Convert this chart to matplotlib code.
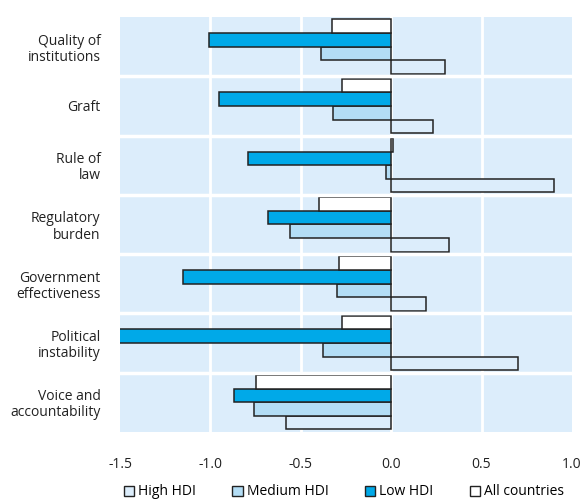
import numpy as np
import matplotlib.pyplot as plt
from matplotlib.patches import Patch

plt.rcParams['font.family'] = ['Open Sans', 'DejaVu Sans']

categories = ['Quality of\ninstitutions', 'Graft', 'Rule of\nlaw', 'Regulatory\nburden',
              'Government\neffectiveness', 'Political\ninstability', 'Voice and\naccountability']
all_countries = [-0.33, -0.27, 0.01, -0.40, -0.29, -0.27, -0.75]
low_hdi = [-1.01, -0.95, -0.79, -0.68, -1.15, -1.60, -0.87]
medium_hdi = [-0.39, -0.32, -0.03, -0.56, -0.30, -0.38, -0.76]
high_hdi = [0.30, 0.23, 0.90, 0.32, 0.19, 0.70, -0.58]
xticks = [-1.5, -1.0, -0.5, 0.0, 0.5, 1.0]

bg = '#dcedfb'
series = [('High HDI', high_hdi, bg),
          ('Medium HDI', medium_hdi, '#b3ddf5'),
          ('Low HDI', low_hdi, '#00a9e8'),
          ('All countries', all_countries, 'white')]

fig = plt.figure(figsize=(5.83, 5.01), dpi=100)
ax = fig.add_axes([0.206, 0.138, 0.775, 0.828])
ax.set_facecolor(bg)

n = len(categories)
ypos = np.arange(n)[::-1]
h = 0.23
offsets = [-1.5 * h, -0.5 * h, 0.5 * h, 1.5 * h]
for (name, vals, col), off in zip(series, offsets):
    ax.barh(ypos + off, vals, height=h, color=col, edgecolor='#222222',
            linewidth=1.1, zorder=3)

ax.set_xlim(-1.5, 1.0)
ax.set_ylim(-0.5, n - 0.5)
ax.set_xticks(xticks)
ax.set_xticklabels(['%.1f' % t for t in xticks], fontsize=10, color='#222222')
ax.set_yticks(ypos)
ax.set_yticklabels(categories, fontsize=10, color='#222222', ha='right',
                   linespacing=1.1)
ax.tick_params(length=0)
ax.tick_params(axis='x', pad=18)
ax.tick_params(axis='y', pad=14)
for t in xticks[1:-1]:
    ax.axvline(t, color='white', linewidth=2, zorder=1)
for y in np.arange(n - 1) + 0.5:
    ax.axhline(y, color='white', linewidth=2.5, zorder=4)
for s in ax.spines.values():
    s.set_visible(False)

handles = [Patch(facecolor=c, edgecolor='#222222', linewidth=1, label=nm)
           for nm, v, c in series]
fig.legend(handles=handles, loc='center', bbox_to_anchor=(0.59, 0.018), ncol=4,
           frameon=False, fontsize=10, handlelength=0.75, handleheight=0.75,
           handletextpad=0.3, columnspacing=2.6)

fig.savefig('out.png', dpi=100)
